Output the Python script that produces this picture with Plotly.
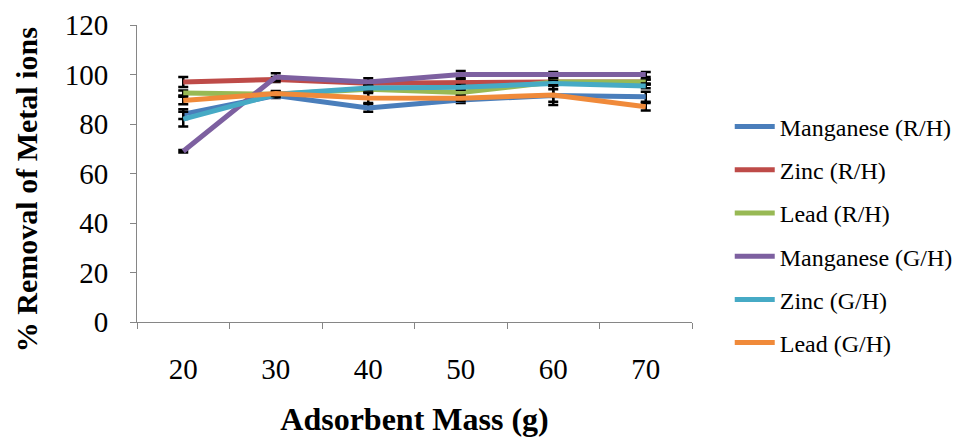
import plotly.graph_objects as go

mass = ["20", "30", "40", "50", "60", "70"]

mn_rh = [84, 91.5, 86.5, 89.7, 91.5, 91]
zn_rh = [97, 98, 96.5, 97, 97, 97]
pb_rh = [92.5, 92, 94, 92.7, 97, 97]
mn_gh = [69, 99, 97, 100, 100, 100]
zn_gh = [82, 92, 94.5, 94.8, 96.4, 95.4]
pb_gh = [89.5, 92.3, 90.5, 90.4, 91.7, 87]

mn_rh_err = [2, 1, 1.5, 1.2, 2.5, 2]
zn_rh_err = [2, 1, 1, 1, 1, 1]
pb_rh_err = [1, 0.5, 1, 1, 1.5, 1]
mn_gh_err = [0.5, 1.5, 1.5, 1.4, 1, 1]
zn_gh_err = [3, 1, 1, 1, 1, 1]
pb_gh_err = [1.5, 1, 2, 1, 4, 1.5]

names = ["Manganese (R/H)", "Zinc (R/H)", "Lead (R/H)",
         "Manganese (G/H)", "Zinc (G/H)", "Lead (G/H)"]
series = [mn_rh, zn_rh, pb_rh, mn_gh, zn_gh, pb_gh]
errors = [mn_rh_err, zn_rh_err, pb_rh_err, mn_gh_err, zn_gh_err, pb_gh_err]
colors = ["#4A7EBB", "#BE4B48", "#98B954", "#7D60A0", "#46AAC5", "#F08A3A"]

fig = go.Figure()
for i, (n, s, e, c) in enumerate(zip(names, series, errors, colors)):
    fig.add_trace(go.Scatter(
        x=mass, y=s, name=n, mode="lines",
        line=dict(color=c, width=5),
        error_y=dict(type="data", array=e, visible=True, color="black",
                     thickness=2.5, width=5),
        legendgroup=str(i),
    ))

font = "Liberation Serif, Times New Roman, serif"
fig.update_layout(
    width=962, height=439,
    margin=dict(l=129, r=278, t=17, b=125, autoexpand=False),
    paper_bgcolor="white", plot_bgcolor="white",
    font=dict(family=font, color="black"),
    showlegend=True,
    legend=dict(x=1.068, xanchor="left", xref="paper", y=0.293, yanchor="middle",
                font=dict(size=24, family=font), tracegroupgap=9,
                itemwidth=40, bgcolor="rgba(0,0,0,0)"),
    xaxis=dict(
        type="category", range=[-0.5, 5.5], tickson="boundaries", automargin=False,
        ticks="outside", ticklen=6, tickcolor="#868686",
        showline=True, linecolor="#868686", linewidth=1,
        showgrid=False, zeroline=False,
        tickfont=dict(size=29, family=font), ticklabelstandoff=21,
        title=dict(text="<b>Adsorbent Mass (g)</b>", font=dict(size=32, family=font),
                   standoff=23),
    ),
    yaxis=dict(
        range=[0, 120], dtick=20, ticks="outside", ticklen=6, tickcolor="#868686",
        showline=True, linecolor="#868686", linewidth=1, automargin=False,
        showgrid=False, zeroline=False,
        tickfont=dict(size=29, family=font), ticklabelstandoff=16,
    ),
    annotations=[dict(
        text="<b>% Removal of Metal ions</b>", textangle=-90,
        xref="paper", yref="paper", x=-0.2, y=0.444,
        xanchor="center", yanchor="middle", showarrow=False,
        font=dict(size=30, family=font, color="black"),
    )],
)

fig.write_html("out.html")
